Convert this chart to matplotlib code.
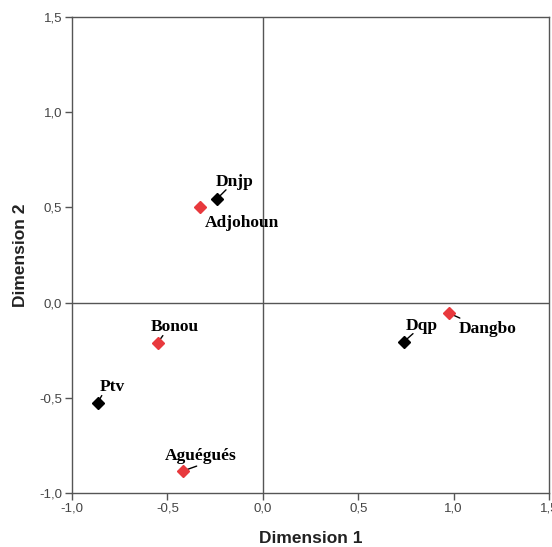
import matplotlib
matplotlib.use("Agg")
import matplotlib.pyplot as plt
from matplotlib.ticker import FuncFormatter

# Data
names_black = ["Dnjp", "Ptv", "Dqp"]
dim1_black = [-0.24, -0.865, 0.74]
dim2_black = [0.545, -0.525, -0.205]

names_red = ["Adjohoun", "Bonou", "Aguégués", "Dangbo"]
dim1_red = [-0.33, -0.55, -0.42, 0.975]
dim2_red = [0.50, -0.21, -0.885, -0.055]

ticks = [-1.0, -0.5, 0.0, 0.5, 1.0, 1.5]

# label offsets in pixels (dx, dy) from the point
label_offsets = {
    "Dnjp": (18, 17), "Ptv": (15, 16), "Dqp": (18, 16),
    "Adjohoun": (42, -16), "Bonou": (17, 16), "Aguégués": (18, 15),
    "Dangbo": (39, -16),
}
# leader line end (pixels from the point)
leader_end = {
    "Dnjp": (9, 9), "Ptv": (4, 7), "Dqp": (9, 8),
    "Bonou": (5, 7), "Aguégués": (14, 5), "Dangbo": (11, -5),
}

fig = plt.figure(figsize=(5.52, 5.47), dpi=100)
ax = fig.add_axes([72/552, 54/547, 477/552, 476/547])
ax.set_xlim(-1.0, 1.5)
ax.set_ylim(-1.0, 1.5)

spine_col = "#555555"
for s in ax.spines.values():
    s.set_color(spine_col)
    s.set_linewidth(1.0)
ax.axhline(0, color=spine_col, lw=1.0, zorder=1)
ax.axvline(0, color=spine_col, lw=1.0, zorder=1)

ax.set_xticks(ticks)
ax.set_yticks(ticks)
fmt = FuncFormatter(lambda v, p: f"{v:.1f}".replace(".", ","))
ax.xaxis.set_major_formatter(fmt)
ax.yaxis.set_major_formatter(fmt)
ax.tick_params(direction="out", length=5, width=1, color=spine_col,
               labelsize=9.5, labelcolor="#444444", pad=2)
ax.tick_params(top=False, right=False)
for lab in ax.get_xticklabels() + ax.get_yticklabels():
    lab.set_fontfamily("Liberation Sans")

ax.set_xlabel("Dimension 1", fontsize=12.5, fontweight="bold",
              fontfamily="Liberation Sans", color="#222222", labelpad=12)
ax.set_ylabel("Dimension 2", fontsize=12.5, fontweight="bold",
              fontfamily="Liberation Sans", color="#222222", labelpad=8)

ax.plot(dim1_black, dim2_black, linestyle="none", marker="D", ms=6.5,
        color="black", zorder=3)
ax.plot(dim1_red, dim2_red, linestyle="none", marker="D", ms=6.5,
        color="#e8393d", zorder=3)

for names, xs, ys in ((names_black, dim1_black, dim2_black),
                      (names_red, dim1_red, dim2_red)):
    for n, x, y in zip(names, xs, ys):
        dx, dy = label_offsets[n]
        ax.annotate(n, xy=(x, y), xytext=(dx, dy), textcoords="offset pixels",
                    ha="center", va="center", fontsize=12.5,
                    fontweight="bold", fontfamily="Liberation Serif",
                    color="black")
        if n in leader_end:
            ax.annotate("", xy=(x, y), xytext=leader_end[n],
                        textcoords="offset pixels",
                        arrowprops=dict(arrowstyle="-", color="black", lw=1.0,
                                        shrinkA=0, shrinkB=2.5), zorder=2)

fig.savefig("out.png", dpi=100)
